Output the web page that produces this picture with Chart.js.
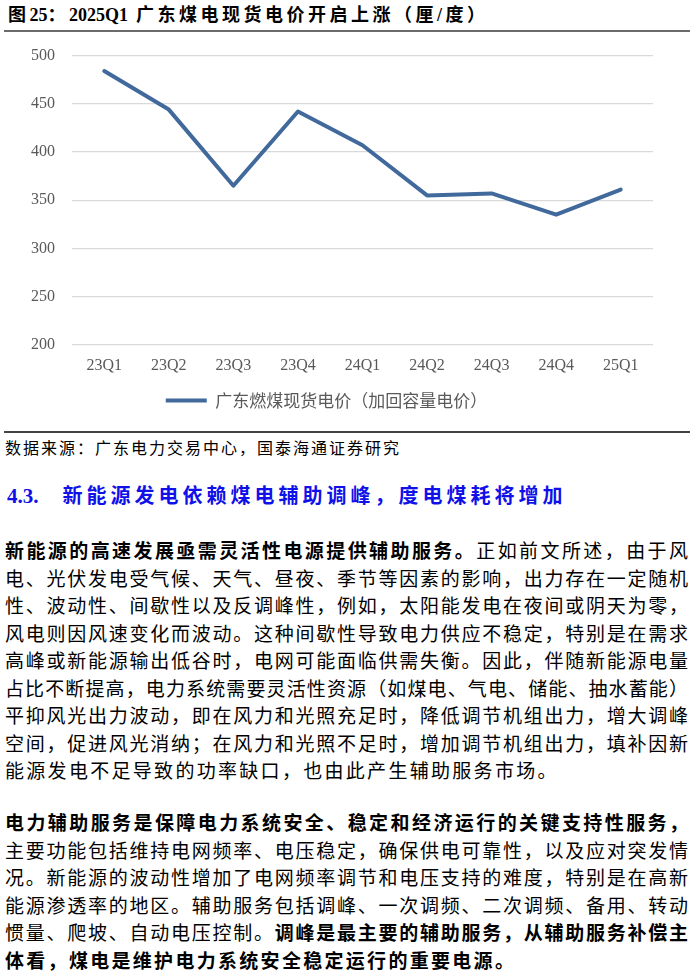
<!DOCTYPE html>
<html>
<head>
<meta charset="utf-8">
<script src="https://cdn.jsdelivr.net/npm/chart.js@4.4.1/dist/chart.umd.min.js"></script>
<style>
body { margin: 0; width: 692px; height: 971px; background: #fff; position: relative; overflow: hidden;
       font-family: "Liberation Serif", "Noto Sans CJK SC", serif; color: #000; }
.abs { position: absolute; }
.title { left: 8px; top: 2px; font-size: 18px; line-height: 26px; font-weight: bold; letter-spacing: 3.5px; white-space: nowrap; }
.title .lat { letter-spacing: 0; }
.rule1 { left: 4px; top: 29.5px; width: 686px; height: 2px; background: #6b6b6b; }
.rule2 { left: 4px; top: 431px; width: 686px; height: 1.5px; background: #444; }
.source { left: 5px; top: 436px; font-family: "Noto Sans CJK SC"; font-size: 16px; line-height: 22px; letter-spacing: 2px; white-space: nowrap; }
.heading { left: 7px; top: 481px; font-size: 21px; line-height: 28px; font-weight: bold; color: #1010e8; white-space: nowrap; }
.heading .cjk { font-family: "Noto Sans CJK SC"; font-size: 20px; letter-spacing: 4px; margin-left: 24px; }
.para { left: 5px; width: 683px; font-family: "Noto Sans CJK SC"; font-size: 19px; line-height: 27.5px; }
.para div { text-align: justify; text-align-last: justify; }
.para div.last { text-align-last: left; letter-spacing: 2.3px; }
#chart { position: absolute; left: 0; top: 29px; }
</style>
</head>
<body>
<div class="abs title">图<span class="lat">25</span>：<span class="lat">2025Q1</span> 广东煤电现货电价开启上涨（厘/度）</div>
<div class="abs rule1"></div>

<canvas id="chart" width="692" height="390"></canvas>

<div class="abs rule2"></div>
<div class="abs source">数据来源：广东电力交易中心，国泰海通证券研究</div>

<div class="abs heading">4.3.<span class="cjk">新能源发电依赖煤电辅助调峰，度电煤耗将增加</span></div>

<div class="abs para" style="top:536px">
<div><b>新能源的高速发展亟需灵活性电源提供辅助服务。</b>正如前文所述，由于风</div>
<div>电、光伏发电受气候、天气、昼夜、季节等因素的影响，出力存在一定随机</div>
<div>性、波动性、间歇性以及反调峰性，例如，太阳能发电在夜间或阴天为零，</div>
<div>风电则因风速变化而波动。这种间歇性导致电力供应不稳定，特别是在需求</div>
<div>高峰或新能源输出低谷时，电网可能面临供需失衡。因此，伴随新能源电量</div>
<div>占比不断提高，电力系统需要灵活性资源（如煤电、气电、储能、抽水蓄能）</div>
<div>平抑风光出力波动，即在风力和光照充足时，降低调节机组出力，增大调峰</div>
<div>空间，促进风光消纳；在风力和光照不足时，增加调节机组出力，填补因新</div>
<div class="last">能源发电不足导致的功率缺口，也由此产生辅助服务市场。</div>
</div>

<div class="abs para" style="top:808px">
<div><b>电力辅助服务是保障电力系统安全、稳定和经济运行的关键支持性服务，</b></div>
<div>主要功能包括维持电网频率、电压稳定，确保供电可靠性，以及应对突发情</div>
<div>况。新能源的波动性增加了电网频率调节和电压支持的难度，特别是在高新</div>
<div>能源渗透率的地区。辅助服务包括调峰、一次调频、二次调频、备用、转动</div>
<div>惯量、爬坡、自动电压控制。<b>调峰是最主要的辅助服务，从辅助服务补偿主</b></div>
<div class="last"><b>体看，煤电是维护电力系统安全稳定运行的重要电源。</b></div>
</div>

<script>
// 广东燃煤现货电价（加回容量电价），厘/度
const quarters = ['23Q1', '23Q2', '23Q3', '23Q4', '24Q1', '24Q2', '24Q3', '24Q4', '25Q1'];
const prices = [484, 444, 365, 442, 407, 355, 357, 335, 361];
const yTicks = [200, 250, 300, 350, 400, 450, 500];
const seriesName = '广东燃煤现货电价（加回容量电价）';

const axisFont = { family: '"Liberation Serif"', size: 16 };

new Chart(document.getElementById('chart'), {
  type: 'line',
  data: {
    labels: quarters,
    datasets: [
      {
        label: seriesName,
        data: prices,
        borderColor: '#41699c',
        backgroundColor: '#41699c',
        borderWidth: 4,
        borderJoinStyle: 'round',
        borderCapStyle: 'round',
        pointRadius: 0,
        tension: 0
      }
    ]
  },
  options: {
    responsive: false,
    animation: false,
    layout: { padding: { left: 0, right: 39, top: 5, bottom: 0 } },
    plugins: {
      legend: {
        position: 'bottom',
        labels: {
          usePointStyle: true,
          pointStyle: 'line',
          pointStyleWidth: 41,
          color: '#595959',
          font: { family: '"Noto Sans CJK SC"', size: 17 },
          padding: 13
        }
      },
      tooltip: { enabled: false }
    },
    scales: {
      x: {
        offset: true,
        grid: { display: false },
        border: { display: false },
        ticks: { color: '#595959', font: axisFont, padding: 3.5 }
      },
      y: {
        min: yTicks[0],
        max: yTicks[yTicks.length - 1],
        grid: { color: '#d9d9d9', drawTicks: false, lineWidth: 1.2 },
        border: { display: false },
        ticks: { stepSize: yTicks[1] - yTicks[0], color: '#595959', font: axisFont, padding: 17 },
        afterFit: function (scale) { scale.width = 72; }
      }
    }
  }
});
</script>
</body>
</html>
